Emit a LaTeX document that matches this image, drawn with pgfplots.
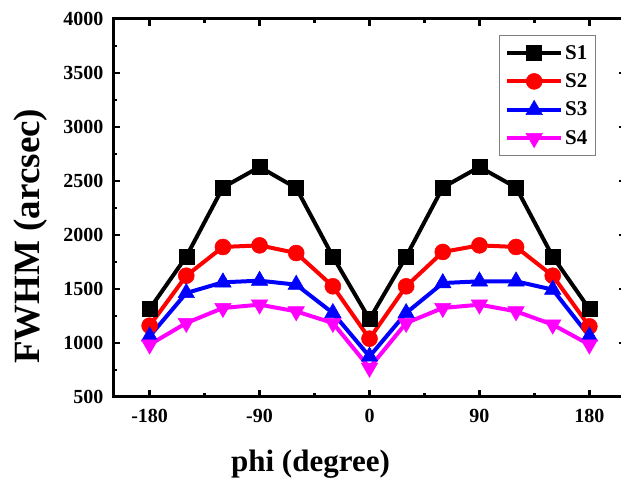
\documentclass[border=0pt]{standalone}
\usepackage{pgfplots}
\pgfplotsset{compat=1.18}
\usepackage{fontspec}
\setmainfont{Liberation Serif}
\definecolor{mag}{RGB}{255,0,255}
\begin{document}
\begin{tikzpicture}
\begin{axis}[
  at={(113pt,81pt)}, anchor=south west,
  scale only axis, width=513pt, height=378pt,
  xmin=-210, xmax=210, ymin=500, ymax=4000,
  xtick={-180,-90,0,90,180}, ytick={500,1000,...,4000},
  minor x tick num=1, minor y tick num=1,
  tick align=inside, major tick length=7pt, minor tick length=4pt,
  every tick/.append style={line width=2.5pt, black},
  axis line style={line width=3pt},
  scaled y ticks=false,
  /pgf/number format/1000 sep={},
  /pgf/number format/assume math mode=true,
  tick label style={font=\fontsize{20}{24}\selectfont\bfseries},
  xticklabel style={yshift=-9pt},
  yticklabel style={xshift=-6pt},
  xlabel={phi (degree)},
  ylabel={FWHM (arcsec)},
  xlabel style={at={(axis description cs:0.385,-0.198)}, anchor=base, font=\fontsize{31}{34}\selectfont\bfseries},
  ylabel style={at={(axis description cs:-0.16,0.425)}, anchor=center, font=\fontsize{37}{40}\selectfont\bfseries},
  legend style={at={(axis description cs:0.752,0.958)}, anchor=north west, draw=gray, line width=0.8pt,
    font=\fontsize{21}{24}\selectfont\bfseries, row sep=9pt, inner xsep=6pt, inner ysep=8pt},
  legend cell align=left,
  legend image code/.code={\draw[mark repeat=2,mark phase=2] plot coordinates {(0pt,0pt) (27pt,0pt) (54pt,0pt)};},
  legend style={nodes={inner sep=2pt}},
  every legend entry/.append style={text width=50pt},
]
\addplot[black, line width=4pt, mark=square*, mark size=7.5pt, mark options={line width=0.5pt}] coordinates {
(-180,1315) (-150,1800) (-120,2440) (-90,2630) (-60,2435) (-30,1800) (0,1220) (30,1800) (60,2440) (90,2630) (120,2440) (150,1800) (180,1315)};
\addlegendentry{S1}
\addplot[red, line width=4pt, mark=*, mark size=8pt, mark options={line width=0.5pt}] coordinates {
(-180,1160) (-150,1623) (-120,1889) (-90,1904) (-60,1833) (-30,1525) (0,1040) (30,1525) (60,1843) (90,1904) (120,1889) (150,1623) (180,1154)};
\addlegendentry{S2}
\addplot[blue, line width=4pt, mark=triangle*, mark size=9.5pt, mark options={line width=0.5pt}] coordinates {
(-180,1062) (-150,1463) (-120,1562) (-90,1577) (-60,1540) (-30,1278) (0,875) (30,1278) (60,1555) (90,1571) (120,1571) (150,1494) (180,1062)};
\addlegendentry{S3}
\addplot[mag, line width=4pt, mark=triangle*, mark size=9.5pt, mark options={line width=0.5pt, rotate=180}] coordinates {
(-180,985) (-150,1185) (-120,1324) (-90,1355) (-60,1293) (-30,1185) (0,770) (30,1185) (60,1324) (90,1355) (120,1293) (150,1170) (180,985)};
\addlegendentry{S4}
\end{axis}
\pgfresetboundingbox
\path[use as bounding box] (0,0) rectangle (621pt,478pt);
\end{tikzpicture}
\end{document}
